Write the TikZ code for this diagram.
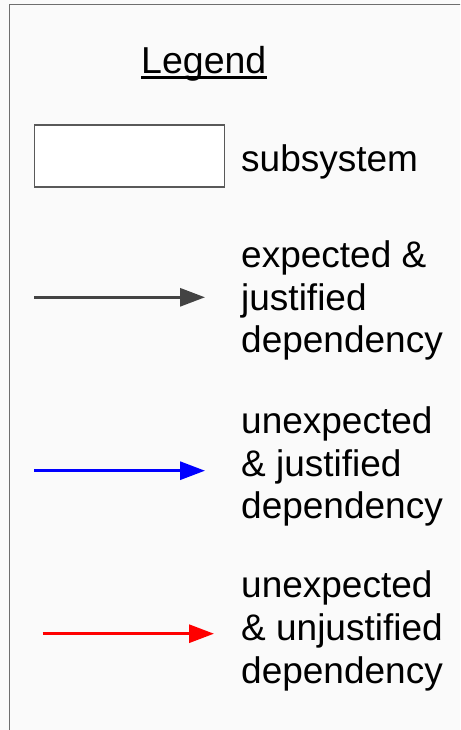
\documentclass[tikz,border=0pt]{standalone}
\usepackage{fontspec}
\setmainfont{Liberation Sans}
\usetikzlibrary{arrows.meta}
\definecolor{pagebg}{RGB}{250,250,250}
\definecolor{framegray}{RGB}{110,110,110}
\definecolor{boxgray}{RGB}{89,89,89}
\definecolor{darkarrow}{RGB}{67,67,67}
\tikzset{
  label text/.style={anchor=base west, inner sep=0pt, font=\fontsize{37}{42.8}\selectfont},
  dep arrow/.style={line width=3pt, -{Triangle[length=25pt,width=18pt]}},
}
\newcommand{\lines}[1]{\begin{tabular}[t]{@{}l@{}}#1\end{tabular}}
\begin{document}
\begin{tikzpicture}[x=1pt,y=-1pt]
  \useasboundingbox (0,0) rectangle (460,730);
  \clip (0,0) rectangle (460,730);
  \fill[pagebg] (0,0) rectangle (460,730);
  % legend frame, running past the right and bottom edges
  \draw[framegray, line width=1.5pt] (9.5,4.5) rectangle (480,760);

  % title
  \node[label text, font=\fontsize{37.5}{42.8}\selectfont] (title) at (141,74) {Legend};
  \draw[line width=3pt] ([yshift=-4pt]title.base west) -- ([yshift=-4pt]title.base east);

  % subsystem box
  \node[draw=boxgray, fill=white, line width=1.5pt, minimum width=190pt, minimum height=62pt,
        inner sep=0pt, anchor=north west] (sub) at (33.7,124.3) {};
  \node[label text] (subtxt) at (241,171.7) {subsystem};

  % expected & justified
  \coordinate (e1) at (34,297.3);
  \coordinate (e2) at (205,297.3);
  \draw[dep arrow, darkarrow] (e1) -- (e2);
  \node[label text] (etxt) at (241,267.3) {\lines{expected \&\\ justified\\ dependency}};

  % unexpected & justified
  \coordinate (b1) at (34,470.7);
  \coordinate (b2) at (205,470.7);
  \draw[dep arrow, blue] (b1) -- (b2);
  \node[label text] (btxt) at (241,433.3) {\lines{unexpected\\ \& justified\\ dependency}};

  % unexpected & unjustified
  \coordinate (r1) at (42.7,633.7);
  \coordinate (r2) at (214,633.7);
  \draw[dep arrow, red] (r1) -- (r2);
  \node[label text] (rtxt) at (241,597.7) {\lines{unexpected\\ \& unjustified\\ dependency}};
\end{tikzpicture}
\end{document}
